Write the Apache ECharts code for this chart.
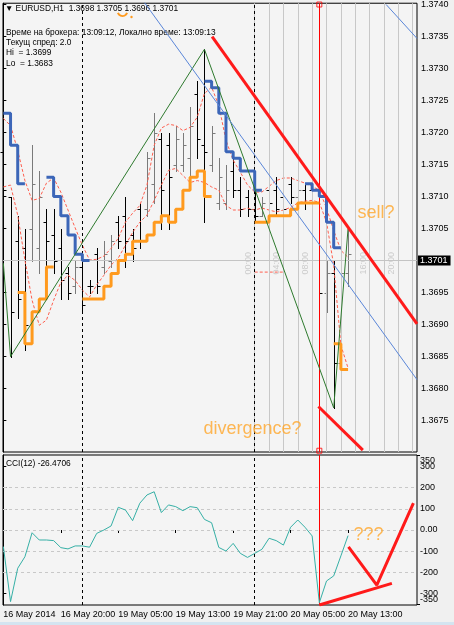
<!DOCTYPE html>
<html><head><meta charset="utf-8">
<script src="https://cdn.jsdelivr.net/npm/echarts@6/dist/echarts.min.js"></script>
<style>html,body{margin:0;padding:0;background:#F0F0F0;}#c{width:454px;height:625px;}</style>
</head><body><div id="c"></div>
<script>
// ---------- DATA ----------
const timeLabels = ['16 May 2014','16 May 20:00','19 May 05:00','19 May 13:00','19 May 21:00','20 May 05:00','20 May 13:00'];
const timeIdx = [0,8,16,24,32,40,48];
const priceTicks = [1.3675,1.3680,1.3685,1.3690,1.3695,1.3700,1.3705,1.3710,1.3715,1.3720,1.3725,1.3730,1.3735,1.3740];
const cciTicks = [-300,-200,-100,0,100,200,300];
const cciEdgeTicks = [-350,350];
const cciLevels = [-200,-100,0,100,200];

const opens  = [1.3717,1.3710,1.3703,1.3702,1.3705,1.3702,1.3706,1.3704,1.3702,1.3698,1.3696,1.3699,1.3696,1.3701,1.3699,1.3700,1.3706,1.3707,1.3704,1.3708,1.3708,1.3712,1.3719,1.3718,1.3715,1.3715,1.3716,1.3726,1.3718,1.3715,1.3709,1.3709,1.3714,1.3711,1.3710,1.3708,1.3707,1.3711,1.3711,1.3710,1.3712,1.3710,1.3711,1.3711,1.3709,1.3695,1.3698,1.3684,1.3698];
const highs  = [1.3718,1.3710,1.3707,1.3705,1.3718,1.3714,1.3708,1.3708,1.3705,1.3699,1.3700,1.3700,1.3697,1.3702,1.3703,1.3704,1.3707,1.3710,1.3705,1.3709,1.3717,1.3723,1.3720,1.3720,1.3721,1.3720,1.3724,1.3728,1.3733,1.3721,1.3716,1.3715,1.3716,1.3713,1.3711,1.3711,1.3710,1.3713,1.3713,1.3712,1.3713,1.3712,1.3712,1.3713,1.3712,1.3700,1.3700,1.3700,1.3705];
const lows   = [1.3710,1.3685,1.3691,1.3686,1.3700,1.3698,1.3698,1.3698,1.3694,1.3694,1.3695,1.3692,1.3695,1.3695,1.3698,1.3699,1.3702,1.3699,1.3700,1.3702,1.3707,1.3709,1.3705,1.3705,1.3714,1.3714,1.3713,1.3716,1.3706,1.3714,1.3708,1.3708,1.3710,1.3707,1.3707,1.3706,1.3707,1.3707,1.3707,1.3707,1.3709,1.3710,1.3708,1.3707,1.3694,1.3692,1.3677,1.3680,1.3696];
const closes = [1.3711,1.3692,1.3694,1.3690,1.3712,1.3710,1.3703,1.3700,1.3697,1.3695,1.3699,1.3693,1.3696,1.3696,1.3701,1.3703,1.3703,1.3703,1.3702,1.3703,1.3716,1.3720,1.3711,1.3713,1.3719,1.3718,1.3721,1.3719,1.3717,1.3720,1.3713,1.3711,1.3711,1.3708,1.3708,1.3707,1.3709,1.3709,1.3708,1.3708,1.3710,1.3711,1.3709,1.3709,1.3695,1.3698,1.3684,1.3698,1.3701];

const maUpper = [1.37222,1.37211,1.37172,1.37125,1.37094,1.37097,1.37121,1.37129,1.37107,1.37079,1.37051,1.37024,1.37001,1.37002,1.37007,1.37019,1.37035,1.3706,1.37074,1.37086,1.37118,1.3718,1.37207,1.37213,1.37211,1.37203,1.37208,1.37224,1.37261,1.37271,1.37242,1.37188,1.37157,1.37138,1.37118,1.37107,1.37107,1.37116,1.37125,1.37129,1.37129,1.37125,1.37121,1.37116,1.3711,1.37082,1.37047,1.37016,1.37005];
const maLower = [1.37115,1.37118,1.37071,1.37001,1.36938,1.36899,1.36907,1.36938,1.36966,1.36977,1.36969,1.36954,1.36943,1.36962,1.36977,1.36993,1.37004,1.37024,1.37044,1.3706,1.37071,1.37094,1.37118,1.37141,1.37144,1.37133,1.37122,1.37125,1.37122,1.37115,1.3711,1.37086,1.37079,1.37079,1.37082,1.37079,1.37082,1.37079,1.37076,1.37079,1.37083,1.3709,1.37093,1.37094,1.37091,1.3706,1.36993,1.36868,1.36832];

const blueStep = [1.3723,1.3723,1.3718,1.3712,null,null,null,1.3713,1.3710,1.3707,1.3704,1.3701,1.3700,null,null,null,null,null,null,null,null,null,null,null,null,null,null,null,null,1.3728,1.3727,1.3723,1.3717,1.3716,1.3714,1.3714,1.3711,null,null,null,null,null,null,1.3712,1.3711,1.3710,1.3706,1.3702,null];
const orangeStep = [null,null,null,1.3695,1.3687,1.3692,1.3694,1.3699,null,null,null,null,1.3694,1.3694,1.3694,1.3696,1.3698,1.3700,1.3701,1.3703,1.3703,1.3704,1.3706,1.3707,1.3706,1.3708,1.3711,1.3713,1.3714,1.3710,null,null,null,null,null,null,1.3706,1.3706,1.3707,1.3707,1.3707,1.3708,1.3709,1.3709,1.3709,null,null,1.3687,1.3683];

const zigzag = [[0,1.36996],[1,1.3685],[28,1.3733],[46,1.3677],[48,1.3705]];
const blueLine1 = [[19.2,1.37410],[57.6,1.36814]];
const blueLine2 = [[53.3,1.3740],[57.6,1.37347]];
const redTrend = [[29.07,1.3735],[57.6,1.36901]];
const redDiv = [[43.87,1.36772],[50.06,1.36704]];
const salmonSeg = [[35,1.36982],[39,1.36982]];

const daySepIdx = [11,35];
const sessionLineIdx = [35,37,39,41,43,45,47,49,51,53,55,57];
const sessionLabels = ['00:00','04:00','08:00','16:00','20:00'];
const sessionLabelIdx = [35,39,43,51,55];
const markIdx = 44;

const cci = [-78,-337,-180,-126,-13,-47,-47,-50,-83,-89,-75,-75,-81,-16,0,19,107,94,44,126,165,180,82,118,110,91,110,105,50,34,-82,-99,-63,-110,-129,-110,-91,-39,-50,-71,13,47,13,-28,-342,-240,-216,-122,-26.4706];
const cciRedBase = [[44,-353],[54.1,-251]];
const cciRedV = [[48.06,-79],[52.0,-259],[57.1,126]];

const notes = [
  {text:'sell?', x:49.26, y:1.37074, grid:0},
  {text:'divergence?', x:27.8, y:1.36737, grid:0},
  {text:'???', x:48.7, y:-26, grid:1}
];
const spread = '2.0', hiVal = '1.3699', loVal = '1.3683';

// ---------- CHART ----------
const FONT = '"Liberation Sans", Arial, sans-serif';
const HFONT = '8.4px ' + FONT;
const XMIN = -0.05, XMAX = 57.6;
const N = opens.length;
const last = N - 1;
function pairs(arr){ return arr.map((v,i)=>[i, v==null ? '-' : v]); }

function renderOHLC(params, api){
  const i = api.value(0), o = api.value(1), h = api.value(2), l = api.value(3), c = api.value(4);
  const ph = api.coord([i,h]), pl = api.coord([i,l]), po = api.coord([i,o]), pc = api.coord([i,c]);
  const x = Math.round(ph[0]) + 0.5;
  const col = c > o ? '#7A7A7A' : '#000000';
  const yo = Math.round(po[1]) + 0.5, yc = Math.round(pc[1]) + 0.5;
  return {type:'group', children:[
    {type:'line', shape:{x1:x, y1:Math.round(ph[1]), x2:x, y2:Math.round(pl[1])+1}, style:{stroke:col, lineWidth:1}},
    {type:'line', shape:{x1:x-3, y1:yo, x2:x, y2:yo}, style:{stroke:col, lineWidth:1}},
    {type:'line', shape:{x1:x, y1:yc, x2:x+3, y2:yc}, style:{stroke:col, lineWidth:1}}
  ]};
}

function helper(grid, z, markLine){
  return {type:'line', xAxisIndex:grid, yAxisIndex:grid, data:[[0,'-']], symbol:'none', silent:true, z:z, markLine:markLine, animation:false};
}
function simpleLine(data, grid, color, width, z, type){
  return {type:'line', xAxisIndex:grid, yAxisIndex:grid, data:data, symbol:'none', silent:true, z:z,
    lineStyle:{color:color, width:width, type:type||'solid'}, animation:false};
}

const series = [
  helper(0, 1, {silent:true, symbol:'none', label:{show:false}, lineStyle:{color:'#C8C8C8', width:1, type:'solid'}, data: sessionLineIdx.map(i=>({xAxis:i}))}),
  helper(0, 1, {silent:true, symbol:'none', label:{show:false}, lineStyle:{color:'#000', width:1, type:[3,3]}, data: daySepIdx.map(i=>({xAxis:i}))}),
  helper(1, 1, {silent:true, symbol:'none', label:{show:false}, lineStyle:{color:'#000', width:1, type:[3,3]}, data: daySepIdx.map(i=>({xAxis:i}))}),
  helper(1, 1, {silent:true, symbol:'none', label:{show:false}, lineStyle:{color:'#C8C8C8', width:1, type:[3,3]}, data: cciLevels.map(v=>({yAxis:v}))}),
  helper(0, 1, {silent:true, symbol:'none', lineStyle:{color:'#C4C4C4', width:1, type:'solid'},
    label:{show:true, position:'end', distance:1, formatter: closes[last].toFixed(4), backgroundColor:'#000', color:'#fff', padding:[1,3,0,2], fontSize:9, fontFamily:FONT},
    data:[{yAxis:closes[last]}]}),
  {type:'scatter', xAxisIndex:0, yAxisIndex:0, silent:true, z:1, symbolSize:1, itemStyle:{color:'rgba(0,0,0,0)'},
    data: sessionLabelIdx.map((i,k)=>({value:[i-0.9, 1.36996], name:sessionLabels[k]})),
    label:{show:true, position:'inside', rotate:90, formatter:p=>p.name, color:'#C2C2C2', fontSize:9, fontFamily:FONT}},
  {type:'custom', xAxisIndex:0, yAxisIndex:0, z:3, silent:true, renderItem:renderOHLC,
    encode:{x:0, y:[1,2,3,4]}, data: opens.map((o,i)=>[i,o,highs[i],lows[i],closes[i]])},
  simpleLine(pairs(maUpper), 0, '#FF5F4F', 1, 4, [3,2]),
  simpleLine(pairs(maLower), 0, '#FF5F4F', 1, 4, [3,2]),
  simpleLine(salmonSeg, 0, '#FF5F4F', 1, 4, [3,2]),
  Object.assign(simpleLine(pairs(orangeStep), 0, '#FF9A1E', 3, 5), {step:'start', connectNulls:false}),
  Object.assign(simpleLine(pairs(blueStep), 0, '#3C66B8', 3, 5), {step:'start', connectNulls:false}),
  simpleLine(zigzag, 0, '#2E7A2E', 1, 6),
  simpleLine(blueLine1, 0, '#5A86D8', 1, 6),
  simpleLine(blueLine2, 0, '#5A86D8', 1, 6),
  simpleLine(redTrend, 0, '#FF1A1A', 3, 7),
  simpleLine(redDiv, 0, '#FF1A1A', 3, 7),
  helper(0, 8, {silent:true, symbol:'none', label:{show:false}, lineStyle:{color:'#FF0000', width:1, type:'solid'}, data:[{xAxis:markIdx}]}),
  helper(1, 8, {silent:true, symbol:'none', label:{show:false}, lineStyle:{color:'#FF0000', width:1, type:'solid'}, data:[{xAxis:markIdx}]}),
  {type:'scatter', xAxisIndex:0, yAxisIndex:0, silent:true, z:9, symbol:'rect', symbolSize:5,
    itemStyle:{color:'rgba(0,0,0,0)', borderColor:'#FF0000', borderWidth:1},
    data:[[markIdx, 1.37400],[markIdx, 1.36703]]},
  simpleLine(pairs(cci), 1, '#36B0A6', 1, 5),
  simpleLine(cciRedBase, 1, '#FF1A1A', 3, 7),
  simpleLine(cciRedV, 1, '#FF1A1A', 3, 7)
];
notes.forEach(n=>{
  series.push({type:'scatter', xAxisIndex:n.grid, yAxisIndex:n.grid, silent:true, z:10, symbolSize:1, itemStyle:{color:'rgba(0,0,0,0)'},
    data:[{value:[n.x, n.y], name:n.text}],
    label:{show:true, position:'right', distance:0, formatter:p=>p.name, color:'#FFA62B', fontSize:18, fontFamily:FONT}});
});

const cciFmt = v => v === 0 ? '0.00' : String(Math.round(v));
const option = {
  animation:false,
  backgroundColor:'#F0F0F0',
  grid:[
    {left:3, top:3, width:414, height:449, show:true, backgroundColor:'#F4F4F4', borderColor:'#000', borderWidth:1},
    {left:3, top:455, width:414, height:150, show:true, backgroundColor:'#F4F4F4', borderColor:'#000', borderWidth:1}
  ],
  xAxis:[
    {type:'value', gridIndex:0, min:XMIN, max:XMAX, show:false},
    {type:'value', gridIndex:1, min:XMIN, max:XMAX, axisLine:{show:false}, splitLine:{show:false},
      axisTick:{show:true, customValues:timeIdx, length:3, lineStyle:{color:'#000'}},
      axisLabel:{customValues:timeIdx, hideOverlap:false, showMinLabel:true, showMaxLabel:true, formatter:v=>timeLabels[timeIdx.indexOf(Math.round(v))]||'', align:'left', margin:5, fontSize:9, color:'#000', fontFamily:FONT}}
  ],
  yAxis:[
    {type:'value', gridIndex:0, position:'right', min:1.36701, max:1.37402,
      axisLine:{show:true, lineStyle:{color:'#000'}}, splitLine:{show:false},
      axisTick:{show:true, customValues:priceTicks, length:3, lineStyle:{color:'#000'}},
      axisLabel:{customValues:priceTicks, hideOverlap:false, showMinLabel:true, showMaxLabel:true, formatter:v=>v.toFixed(4), margin:4, fontSize:9, color:'#000', fontFamily:FONT}},
    {type:'value', gridIndex:1, position:'right', min:-353, max:353,
      axisLine:{show:true, lineStyle:{color:'#000'}}, splitLine:{show:false},
      axisTick:{show:true, customValues:cciTicks, length:3, lineStyle:{color:'#000'}},
      axisLabel:{customValues:cciTicks, hideOverlap:false, showMinLabel:true, showMaxLabel:true, formatter:cciFmt, margin:3, fontSize:9, color:'#000', fontFamily:FONT}},
    {type:'value', gridIndex:1, position:'right', min:-353, max:353,
      axisLine:{show:false}, splitLine:{show:false},
      axisTick:{show:true, customValues:cciEdgeTicks, length:3, lineStyle:{color:'#000'}},
      axisLabel:{customValues:cciEdgeTicks, hideOverlap:false, showMinLabel:true, showMaxLabel:true, formatter:cciFmt, margin:3, fontSize:9, color:'#000', fontFamily:FONT,
        verticalAlignMaxLabel:'top', verticalAlignMinLabel:'bottom'}}
  ],
  graphic:[
    {type:'text', left:5, top:5, silent:true, style:{text:'\u25BC EURUSD,H1  '+[opens[last],highs[last],lows[last],closes[last]].map(v=>v.toFixed(4)).join(' '), fill:'#000', font:HFONT}},
    {type:'text', left:6, top:29, silent:true, style:{text:'Време на брокера: 13:09:12, Локално време: 13:09:13', fill:'#000', font:HFONT}},
    {type:'text', left:6, top:39, silent:true, style:{text:'Текущ спред: '+spread, fill:'#000', font:HFONT}},
    {type:'text', left:6, top:49, silent:true, style:{text:'Hi  = '+hiVal, fill:'#000', font:HFONT}},
    {type:'text', left:6, top:60, silent:true, style:{text:'Lo  = '+loVal, fill:'#000', font:HFONT}},
    {type:'text', left:6, top:460, silent:true, style:{text:'CCI(12) '+cci[last].toFixed(4), fill:'#000', font:HFONT}},
    {type:'arc', silent:true, shape:{cx:122.5, cy:11, r:5, startAngle:0.4, endAngle:Math.PI-0.4}, style:{stroke:'#FF9A1E', lineWidth:2, fill:null}},
    {type:'circle', silent:true, shape:{cx:131.5, cy:17, r:1.2}, style:{fill:'#FF9A1E'}},
    {type:'rect', silent:true, shape:{x:0, y:622, width:454, height:3}, style:{fill:'#D4E4F0'}}
  ],
  series: series
};
const chart = echarts.init(document.getElementById('c'), null, {renderer:'canvas', width:454, height:625});
chart.setOption(option);
</script></body></html>
